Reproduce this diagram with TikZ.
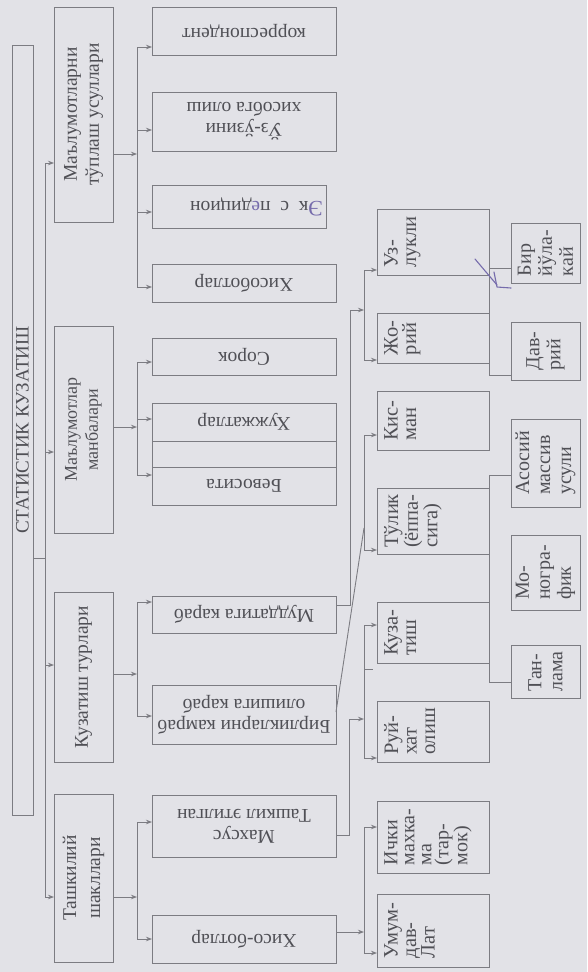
\documentclass[tikz,border=0pt]{standalone}
\usepackage{fontspec}
\setmainfont{Liberation Serif}
\usetikzlibrary{arrows.meta}
\definecolor{bg}{RGB}{226,226,231}
\definecolor{ln}{RGB}{124,124,130}
\definecolor{tx}{RGB}{80,80,86}
\definecolor{pen}{RGB}{118,108,172}
\newcommand\Bx[5]{\node[bx,minimum width={(#4-#2)*1pt},minimum height={(#5-#3)*1pt}] (#1) at ({(#2+#4)/2},{(#3+#5)/2}) {};}
\begin{document}
\begin{tikzpicture}[x=1pt,y=-1pt,
  bx/.style={draw=ln, line width=0.9pt, inner sep=0pt, outer sep=0pt},
  conn/.style={draw=ln, line width=0.9pt},
  arr/.style={conn, -{Stealth[length=6pt,width=4.5pt]}},
  tt/.style={text=tx, inner sep=0pt},
  tone/.style={tt, rotate=90, align=center, font=\fontsize{19.5}{22}\selectfont},
  ttwo/.style={tt, rotate=180, align=center, font=\fontsize{19.5}{21}\selectfont},
  tthree/.style={tt, rotate=90, align=left, anchor=north, font=\fontsize{20.5}{18.5}\selectfont},
  tfour/.style={tt, rotate=90, align=left, font=\fontsize{20}{21}\selectfont}]
\useasboundingbox (0,0) rectangle (587,972);
\fill[bg] (0,0) rectangle (587,972);
% boxes
\Bx{T}{12}{45}{33}{815}
\Bx{A}{54}{7}{113}{222}
\Bx{B}{54}{326}{113}{533}
\Bx{C}{54}{592}{113}{762}
\Bx{D}{54}{794}{113}{962}
\Bx{K1}{152}{7}{336}{55}
\Bx{K2}{152}{92}{336}{151}
\Bx{K3}{152}{185}{326}{228}
\Bx{K4}{152}{264}{336}{302}
\Bx{S1}{152}{338}{336}{375}
\Bx{S2a}{152}{403}{336}{441}
\Bx{S2b}{152}{441}{336}{467}
\Bx{S2c}{152}{467}{336}{505}
\Bx{M1}{152}{596}{336}{633}
\Bx{M2}{152}{685}{336}{744}
\Bx{X1}{152}{795}{336}{857}
\Bx{X2}{152}{915}{336}{963}
\Bx{U}{377}{209}{489}{275}
\Bx{J}{377}{313}{489}{363}
\Bx{Kis}{377}{391}{489}{450}
\Bx{Tul}{377}{488}{489}{554}
\Bx{Kuz}{377}{602}{489}{663}
\Bx{Ruy}{377}{701}{489}{762}
\Bx{Ich}{377}{801}{489}{873}
\Bx{Umu}{377}{894}{489}{967}
\Bx{Bir}{511}{223}{580}{283}
\Bx{Dav}{511}{322}{580}{380}
\Bx{Aso}{511}{419}{580}{507}
\Bx{Mon}{511}{535}{580}{610}
\Bx{Tan}{511}{645}{580}{698}
% texts
\node[tt, rotate=90, font=\fontsize{19}{21}\selectfont] (Tt) at (T) {СТАТИСТИК КУЗАТИШ};
\node[tone] (At) at (A) {Маълумотларни\\тўплаш усуллари};
\node[tone, font=\fontsize{18}{21}\selectfont] (Bt) at (B) {Маълумотлар\\манбалари};
\node[tone] (Ct) at (C) {Кузатиш турлари};
\node[tone, font=\fontsize{19.5}{24}\selectfont] (Dt) at (D) {Ташкилий\\шакллари};
\node[ttwo] (K1t) at (K1) {корреспондент};
\node[ttwo] (K2t) at (K2) {Ўз-ўзини\\хисобга олиш};
\node[ttwo, anchor=west] (K3t) at ([xshift=-3pt]K3.east) {{\color{pen}\fontsize{22}{22}\selectfont Э}к\ \ с\ \ п{\color{pen}е}дицион};
\node[ttwo] (K4t) at (K4) {Хисоботлар};
\node[ttwo] (S1t) at (S1) {Сорок};
\node[ttwo] (S2at) at (S2a) {Хужжатлар};
\node[ttwo] (S2ct) at (S2c) {Бевосита};
\node[ttwo] (M1t) at (M1) {Муддатига караб};
\node[ttwo] (M2t) at (M2) {Бирликларни камраб\\олишига караб};
\node[ttwo] (X1t) at (X1) {Махсус\\Ташкил этилган};
\node[ttwo] (X2t) at (X2) {Хисо-ботлар};
\node[tthree] (Ut) at ([xshift=7pt]U.west) {Уз-\\лукли};
\node[tthree] (Jt) at ([xshift=7pt]J.west) {Жо-\\рий};
\node[tthree] (Kist) at ([xshift=7pt]Kis.west) {Кис-\\ман};
\node[tthree] (Tult) at ([xshift=7pt]Tul.west) {Тўлик\\(ёппа-\\сига)};
\node[tthree] (Kuzt) at ([xshift=7pt]Kuz.west) {Куза-\\тиш};
\node[tthree] (Ruyt) at ([xshift=7pt]Ruy.west) {Руй-\\хат\\олиш};
\node[tthree, font=\fontsize{20}{17}\selectfont] (Icht) at ([xshift=7pt]Ich.west) {Ички\\махка-\\ма\\(тар-\\мок)};
\node[tthree] (Umut) at ([xshift=7pt]Umu.west) {Умум-\\дав-\\Лат};
\node[tfour] (Birt) at (Bir) {Бир\\йўла-\\кай};
\node[tfour] (Davt) at (Dav) {Дав-\\рий};
\node[tfour] (Asot) at (Aso) {Асосий\\массив\\усули};
\node[tfour] (Mont) at (Mon) {Мо-\\ногра-\\фик};
\node[tfour] (Tant) at (Tan) {Тан-\\лама};
% trunk
\coordinate (tr1) at (45,163);
\coordinate (tr2) at (45,452);
\coordinate (tr3) at (45,665);
\coordinate (tr4) at (45,897);
\draw[conn] (T.east |- 0,558) -- (tr1 |- 0,558);
\draw[conn] (tr1) -- (tr4);
\draw[arr] (tr1) -- (A.west |- tr1);
\draw[arr] (tr2) -- (B.west |- tr2);
\draw[arr] (tr3) -- (C.west |- tr3);
\draw[arr] (tr4) -- (D.west |- tr4);
% group 1
\coordinate (b1a) at (137,47);
\coordinate (b1b) at (137,130);
\coordinate (b1c) at (137,212);
\coordinate (b1d) at (137,287);
\coordinate (b1i) at (137,154);
\draw[conn] (b1a) -- (b1d);
\draw[arr] (A.east |- b1i) -- (b1i);
\draw[arr] (b1a) -- (K1.west |- b1a);
\draw[arr] (b1b) -- (K2.west |- b1b);
\draw[arr] (b1c) -- (K3.west |- b1c);
\draw[arr] (b1d) -- (K4.west |- b1d);
% group 2
\coordinate (b2a) at (137,362);
\coordinate (b2b) at (137,419);
\coordinate (b2c) at (137,475);
\coordinate (b2i) at (137,427);
\draw[conn] (b2a) -- (b2c);
\draw[arr] (B.east |- b2i) -- (b2i);
\draw[arr] (b2a) -- (S1.west |- b2a);
\draw[arr] (b2b) -- (S2a.west |- b2b);
\draw[arr] (b2c) -- (S2c.west |- b2c);
% group 3
\coordinate (b3a) at (137,602);
\coordinate (b3b) at (137,716);
\coordinate (b3i) at (137,674);
\draw[conn] (b3a) -- (b3b);
\draw[arr] (C.east |- b3i) -- (b3i);
\draw[arr] (b3a) -- (M1.west |- b3a);
\draw[arr] (b3b) -- (M2.west |- b3b);
% group 4
\coordinate (b4a) at (137,822);
\coordinate (b4b) at (137,939);
\coordinate (b4i) at (137,897);
\draw[conn] (b4a) -- (b4b);
\draw[arr] (D.east |- b4i) -- (b4i);
\draw[arr] (b4a) -- (X1.west |- b4a);
\draw[arr] (b4b) -- (X2.west |- b4b);
% level 3: by time
\coordinate (c1a) at (364,270);
\coordinate (c1b) at (364,360);
\coordinate (c1i) at (364,310);
\coordinate (f1) at (350,605);
\draw[conn] (c1a) -- (c1b);
\draw[conn] (M1.east |- f1) -- (f1) -- (f1 |- c1i);
\draw[arr] (f1 |- c1i) -- (c1i);
\draw[arr] (c1a) -- (U.west |- c1a);
\draw[arr] (c1b) -- (J.west |- c1b);
% level 3: by coverage
\coordinate (c2a) at (364,435);
\coordinate (c2b) at (364,550);
\coordinate (c2i) at (364,528);
\draw[conn] (c2a) -- (c2b);
\draw[conn] (M2.east |- 0,712) -- (c2i);
\draw[arr] (c2a) -- (Kis.west |- c2a);
\draw[arr] (c2b) -- (Tul.west |- c2b);
% level 3: special
\coordinate (c3a) at (364,625);
\coordinate (c3b) at (364,758);
\coordinate (c3i) at (364,719);
\coordinate (f3) at (349,835);
\draw[conn] (c3a) -- (c3b);
\draw[conn] (364,669) -- (373,669);
\draw[conn] (X1.east |- f3) -- (f3) -- (f3 |- c3i);
\draw[arr] (f3 |- c3i) -- (c3i);
\draw[arr] (c3a) -- (Kuz.west |- c3a);
\draw[arr] (c3b) -- (Ruy.west |- c3b);
% level 3: reports
\coordinate (c4a) at (364,827);
\coordinate (c4b) at (364,953);
\coordinate (c4i) at (364,932);
\draw[conn] (c4a) -- (c4b);
\draw[arr] (X2.east |- c4i) -- (c4i);
\draw[arr] (c4a) -- (Ich.west |- c4a);
\draw[arr] (c4b) -- (Umu.west |- c4b);
% level 4
\coordinate (d1) at (489,375);
\coordinate (d2) at (489,475);
\coordinate (d3) at (489,682);
\draw[conn] (U.east |- 0,268) -- (Bir.west |- 0,268);
\draw[conn] (U.south east) -- (d1) -- (Dav.west |- d1);
\draw[conn] (Aso.west |- d2) -- (d2) -- (d3) -- (Tan.west |- d3);
% handwritten check mark
\draw[pen, line width=1.1pt, line cap=round] (475,259) -- (497,285);
\draw[pen, line width=1.1pt, line cap=round, line join=round] (494,272) -- (497,287) -- (511,288);
\end{tikzpicture}
\end{document}
